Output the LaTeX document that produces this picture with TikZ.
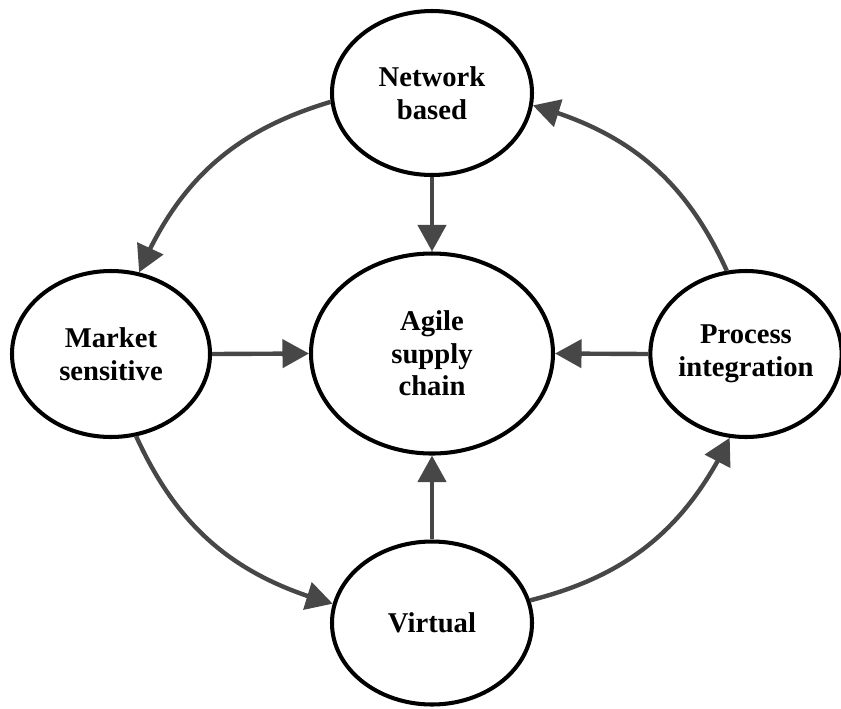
\documentclass[tikz,border=0pt]{standalone}
\usepackage{fontspec}
\setmainfont{Liberation Serif}
\usepackage{xcolor}
\usepackage{tikz}
\usetikzlibrary{arrows.meta, bending}
\usetikzlibrary{shapes}
\definecolor{arrowgray}{HTML}{474747}

\begin{document}
\begin{tikzpicture}[every node/.style={draw, 
            ellipse,
            line width=2.3pt,
            inner sep=0mm,
            align=center,
            font=\bfseries\fontsize{16.3}{18.6}\selectfont},
            link/.style={arrowgray, line width=2.5pt, ->},
            >={Triangle[length=5.3mm, width=5.6mm]}]
            \useasboundingbox (0,0) rectangle (16.82,-14.16);
            \node[minimum width=4.84cm, minimum height=4cm] at (8.64,-7.07) (agile) {Agile\\supply\\chain};
            \node[minimum width=4cm, minimum height=3.28cm] at (8.64,-1.86) (net) {Network\\based};
            \node[minimum width=3.96cm, minimum height=3.32cm] at (2.22,-7.08) (mkt) {Market\\sensitive};
            \node[minimum width=3.76cm, minimum height=3.32cm] at (14.92,-7.08) (proc) {Process\\integration};
            \node[minimum width=4cm, minimum height=3.26cm] at (8.64,-12.46) (virt) {Virtual};
            % spokes into the centre
            \draw[link] (net.south) -- (agile.north);
            \draw[link] (mkt.east) -- (agile.west);
            \draw[link] (proc.west) -- (agile.east);
            \draw[link] (virt.north) -- (agile.south);
            % outer ring
            \draw[link] (net.185) to[bend right=25] (mkt.71);
            \draw[link] (mkt.287) to[bend right=25] (virt.169);
            \draw[link] (virt.13) to[bend right=25] (proc.259);
            \draw[link] (proc.103) to[bend right=25] (net.353);
        \end{tikzpicture}
\end{document}
